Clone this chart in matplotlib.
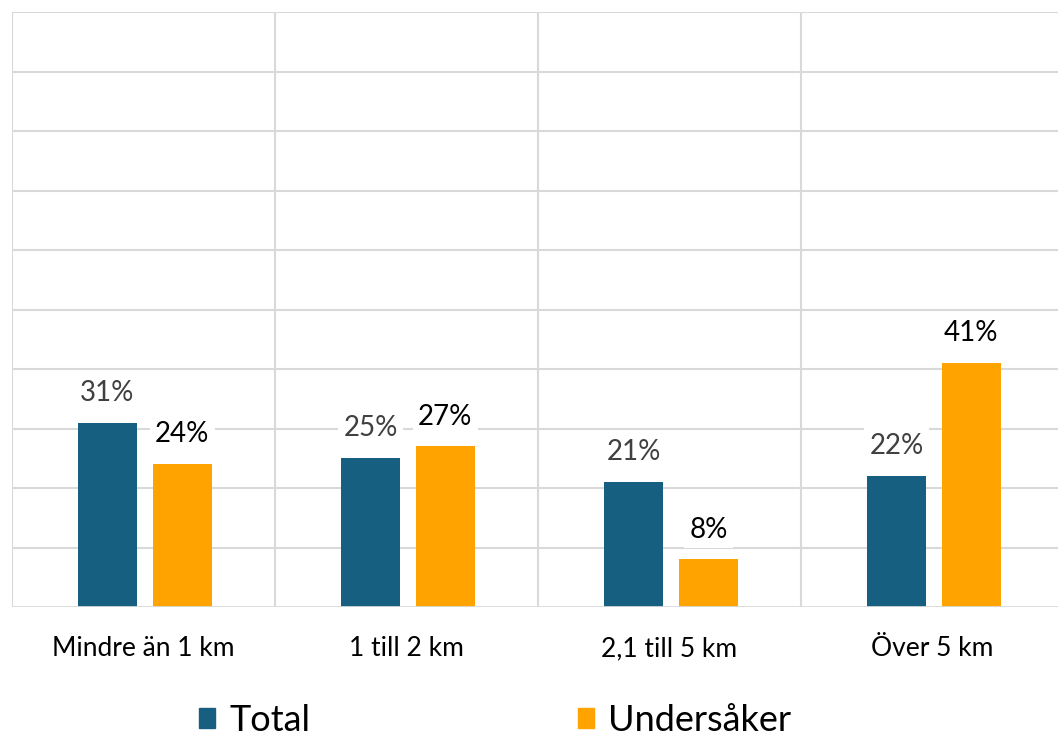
import matplotlib.pyplot as plt
import numpy as np
from matplotlib.patches import Patch

# data
categories = ["Mindre än 1 km", "1 till 2 km", "2,1 till 5 km", "Över 5 km"]
total = [31, 25, 21, 22]
undersaker = [24, 27, 8, 41]
series_names = ["Total", "Undersåker"]

blue = "#175f80"
orange = "#ffa300"
grid_col = "#d9d9d9"

plt.rcParams['font.family'] = ['Lato', 'DejaVu Sans']

fig = plt.figure(figsize=(10.58, 7.39), dpi=100)
# axes spans from x=12 to x=1064 px (right edge clipped by the figure)
ax = fig.add_axes([12/1058, (739-607)/739, 1052/1058, 595/739])

x = np.arange(len(categories))
w = 0.224
off1 = -0.137
off2 = 0.148
ax.bar(x + off1, total, w, color=blue, zorder=3)
ax.bar(x + off2, undersaker, w, color=orange, zorder=3)

ax.set_xlim(-0.5, len(categories) - 0.5)
ax.set_ylim(0, 100)

# grid
for yv in range(10, 101, 10):
    ax.axhline(yv, color=grid_col, lw=1.5, zorder=1)
for xv in np.arange(-0.5, len(categories) - 0.5, 1):
    ax.axvline(xv, color=grid_col, lw=1.5, zorder=1)

for s in ax.spines.values():
    s.set_visible(False)
ax.axhline(0, color=grid_col, lw=2, zorder=4)

ax.set_yticks([])
ax.set_xticks(x)
ax.set_xticklabels(categories, fontsize=19)
ax.tick_params(axis='x', length=0, pad=21)

# value labels
for xi, v in zip(x + off1, total):
    ax.text(xi, v + 5, f"{v}%", ha='center', va='center', fontsize=20,
            color="#404040", zorder=5,
            bbox=dict(facecolor='white', edgecolor='none', pad=4))
for xi, v in zip(x + off2, undersaker):
    ax.text(xi, v + 5, f"{v}%", ha='center', va='center', fontsize=20,
            color="black", zorder=5,
            bbox=dict(facecolor='white', edgecolor='none', pad=4))

handles = [Patch(color=blue), Patch(color=orange)]
fig.legend(handles, series_names, loc='center', bbox_to_anchor=(0.468, 0.025),
           ncol=2, frameon=False, fontsize=26, handlelength=0.45,
           handleheight=0.45, handletextpad=0.4, columnspacing=7.4)

fig.savefig("out.png", dpi=100)
